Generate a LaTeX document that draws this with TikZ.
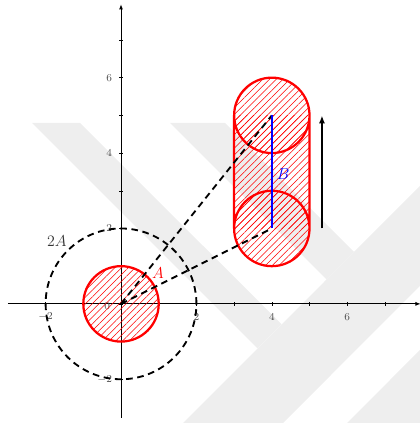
\documentclass[tikz,border=0pt]{standalone}
\usepackage{xcolor}
\usepackage{tikz}
\usetikzlibrary{arrows.meta,patterns.meta}

\begin{document}
\begin{tikzpicture}[
    axis/.style={line width=0.7pt, -{Latex[length=4pt,width=3pt]}},
    ticklbl/.style={font=\footnotesize, text=black!70, inner sep=1pt},
    disc/.style={pattern={Lines[angle=45,distance=3.6pt,line width=0.45pt]}, pattern color=red},
    rim/.style={draw=red, line width=1.7pt},
    guide/.style={line width=1.4pt, dash pattern=on 5pt off 3.5pt},
    wmark/.style={fill=gray!13},
    lbl/.style={font=\large, inner sep=0pt}
]
\useasboundingbox (-3.21,-3.16) rectangle (7.93,8.06);
% faint watermark behind the plot
\path[wmark] (-2.36,4.80) -- (-1.09,4.80) -- (4.26,-0.54) -- (3.62,-1.18) -- cycle;
\path[wmark] (1.30,4.80) -- (2.76,4.80) -- (6.18,1.38) -- (5.45,0.65) -- cycle;
\path[wmark] (1.65,-3.16) -- (4.30,-3.16) -- (7.93,0.48) -- (7.93,3.13) -- cycle;
\path[wmark] (6.00,-3.16) -- (7.93,-1.22) -- (7.93,-3.16) -- cycle;

% axes
\coordinate (O) at (0,0);
\coordinate (B1) at (4,2);
\coordinate (B2) at (4,5);
\draw[axis] (-3,0) -- (7.95,0);
\draw[axis] (0,-3.02) -- (0,7.95);
\foreach \t in {-2,...,7} {
    \draw[line width=0.4pt] (\t,-0.05) -- (\t,0.05);
    \draw[line width=0.4pt] (-0.05,\t) -- (0.05,\t);
}
\foreach \t in {-2,2,4,6} {
    \node[ticklbl] at (\t,-0.34) {$\t$};
    \node[ticklbl, anchor=east] at (-0.2,\t) {$\t$};
}
\node[ticklbl] at (-0.37,-0.06) {$0$};

% set A and its double
\fill[disc] (O) circle (1);
\draw[rim] (O) circle (1);
\draw[guide] (O) circle (2);

% set B swept upwards
\foreach \c in {B1,B2}
    \fill[disc] (\c) circle (1);
\fill[disc] (3,2) rectangle (5,5);
\draw[rim] (B1) circle (1) (B2) circle (1) (3,2) -- (3,5) (5,2) -- (5,5);

\draw[guide] (O) -- (B2);
\draw[guide] (O) -- (B1);
\draw[blue, line width=1.5pt] (B1) -- (B2);

\coordinate (vS) at (5.33,2);
\coordinate (vE) at (5.33,5);
\draw[line width=1.5pt, -{Latex[length=6pt,width=4.5pt]}] (vS) -- (vE);

\node[lbl, text=red] (lblA) at (0.98,0.82) {$A$};
\node[lbl, text=black!80] (lbl2A) at (-1.70,1.67) {$2A$};
\node[lbl, text=blue] (lblB) at (4.30,3.45) {$B$};
\end{tikzpicture}
\end{document}
